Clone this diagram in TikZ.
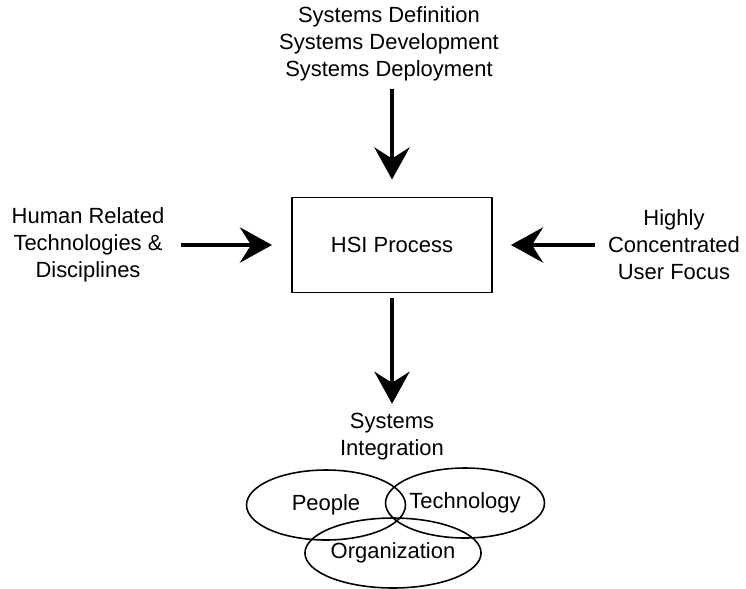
\documentclass[tikz,border=0pt]{standalone}
\usepackage{fontspec}
\setmainfont{Liberation Sans}
\usetikzlibrary{arrows.meta,shapes.geometric,positioning}

\begin{document}
\begin{tikzpicture}[x=0.02cm, y=-0.02cm, >={Stealth[length=0.64cm,width=0.7cm,inset=0.22cm]},
    font=\fontsize{12.5pt}{15.4pt}\selectfont]
    \tikzstyle{box}=[rectangle,draw,line width=1.1pt,minimum width=4cm,minimum height=1.9cm]
    \tikzstyle{txt}=[align=center]
    \tikzstyle{flow}=[->,line width=2.8pt]
    \tikzstyle{part}=[ellipse,draw,line width=0.9pt,minimum width=3.18cm,minimum height=1.4cm,inner sep=0pt]
    \useasboundingbox (0,0) rectangle (746,588);
    \node[box] (hsi) at (392,245) {HSI Process};
    \node[txt] (phases) at (389,44) {Systems Definition\\Systems Development\\Systems Deployment};
    \node[txt] (human) at (88,245) {Human Related\\Technologies \&\\Disciplines};
    \node[txt] (user) at (674,245) {Highly\\Concentrated\\User Focus};
    \node[txt] (integ) at (392,437) {Systems\\Integration};
    \node[part] (people) at (326,505) {People};
    \node[part] (tech) at (465,503) {Technology};
    \node[part] (org) at (393,553) {Organization};
    \draw[flow,shorten <=0.04cm,shorten >=0.34cm] (phases.south-|hsi.north) -- (hsi);
    \draw[flow,shorten <=0.2cm,shorten >=0.38cm] (human) -- (hsi);
    \draw[flow,shorten <=0.14cm,shorten >=0.36cm] (user) -- (hsi);
    \draw[flow,shorten <=0.1cm,shorten >=0.07cm] (hsi) -- (integ.north);
\end{tikzpicture}
\end{document}
